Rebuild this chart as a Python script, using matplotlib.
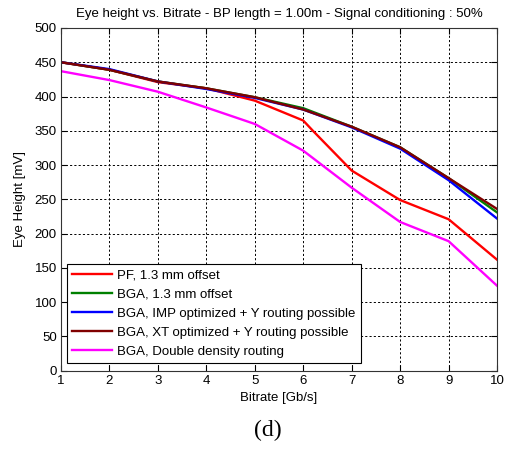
import matplotlib
matplotlib.use("Agg")
import matplotlib.pyplot as plt

# Eye height [mV] versus bitrate [Gb/s] for each routing variant
bitrate = [1, 2, 3, 4, 5, 6, 7, 8, 9, 10]
pf_bitrate = [1, 2, 3, 4, 5, 6, 6.2, 7, 8, 9, 10]
pf_offset = [450, 439, 421, 412, 394, 365, 350, 292, 249, 221, 162]
bga_offset = [450, 439, 422, 412, 399, 383, 356, 326, 281, 231]
bga_imp = [450, 440, 422, 411, 398, 381, 355, 324, 278, 222]
bga_xt = [450, 439, 422, 412, 399, 381, 356, 326, 281, 236]
bga_double = [437, 424, 407, 384, 360, 321, 267, 217, 189, 124]

series_labels = [
    "PF, 1.3 mm offset",
    "BGA, 1.3 mm offset",
    "BGA, IMP optimized + Y routing possible",
    "BGA, XT optimized + Y routing possible",
    "BGA, Double density routing",
]
x_ticks = [1, 2, 3, 4, 5, 6, 7, 8, 9, 10]
y_ticks = [0, 50, 100, 150, 200, 250, 300, 350, 400, 450, 500]

plt.rcParams["font.family"] = ["Liberation Sans", "DejaVu Sans"]
fs = 9.5

fig = plt.figure(figsize=(5.05, 4.5), dpi=100)
ax = fig.add_axes([0.1208, 0.1762, 0.8634, 0.7616])

lw = 1.7
ax.plot(pf_bitrate, pf_offset, color="#ff0000", lw=lw, label=series_labels[0])
ax.plot(bitrate, bga_offset, color="#008000", lw=lw, label=series_labels[1])
ax.plot(bitrate, bga_imp, color="#0000ff", lw=lw, label=series_labels[2])
ax.plot(bitrate, bga_xt, color="#800000", lw=lw, label=series_labels[3])
ax.plot(bitrate, bga_double, color="#ff00ff", lw=lw, label=series_labels[4])

ax.set_xlim(1, 10)
ax.set_ylim(0, 500)
ax.set_xticks(x_ticks)
ax.set_yticks(y_ticks)
ax.grid(True, color="black", linestyle=(0, (2.2, 2.2)), linewidth=0.7)
ax.tick_params(direction="in", top=True, right=True, length=4, width=0.8,
               labelsize=fs, pad=3)
for s in ax.spines.values():
    s.set_linewidth(0.8)
    s.set_color("#333333")

ax.set_title("Eye height vs. Bitrate - BP length = 1.00m - Signal conditioning : 50%",
             fontsize=fs, pad=8)
ax.set_xlabel("Bitrate [Gb/s]", fontsize=fs, labelpad=4)
ax.set_ylabel("Eye Height [mV]", fontsize=fs, labelpad=6)

leg = ax.legend(loc="lower left", bbox_to_anchor=(0.132, 0.193),
                bbox_transform=fig.transFigure, frameon=True, fancybox=False,
                edgecolor="black", framealpha=1, fontsize=fs,
                handlelength=3.0, handletextpad=0.45, labelspacing=0.52,
                borderpad=0.4, borderaxespad=0)
leg.get_frame().set_linewidth(0.8)

fig.text(0.531, 0.044, "(d)", family=["Liberation Serif", "DejaVu Serif"],
         fontsize=17, ha="center", va="center")

fig.savefig("out.png", dpi=100)
